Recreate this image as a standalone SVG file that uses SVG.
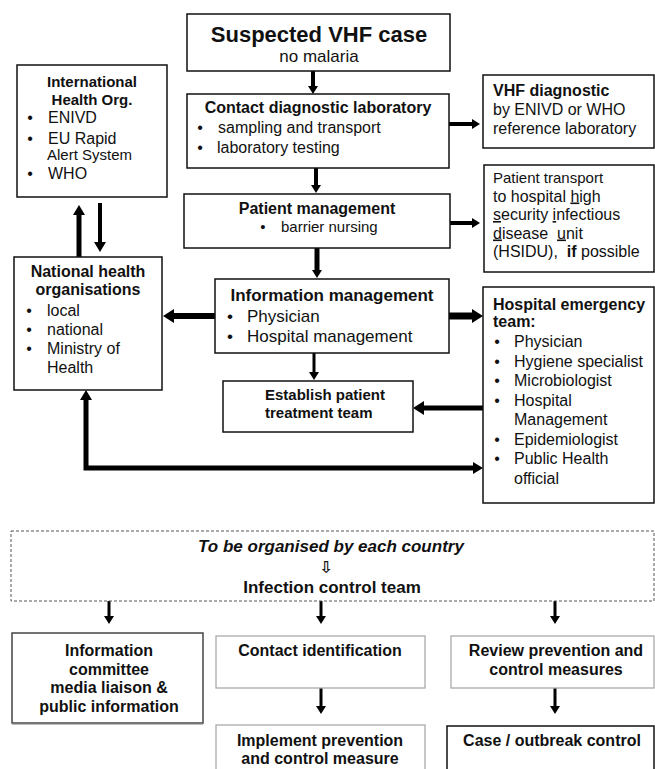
<svg xmlns="http://www.w3.org/2000/svg" width="655" height="769" viewBox="0 0 655 769">
<style>
text{font-family:"Liberation Sans",Arial,sans-serif;fill:#111;}
.b{font-weight:bold;}
.m{text-anchor:middle;}
.box{fill:#fff;stroke:#111;stroke-width:1.5;}
.gbox{fill:#fff;stroke:#aaa;stroke-width:1.3;}
.c{stroke:#000;fill:none;}
.f16{font-size:16px;}
.f15{font-size:15px;}
.f17{font-size:17px;}
</style>
<defs>
<marker id="ah" viewBox="0 0 8 10" refX="0" refY="5" markerWidth="8" markerHeight="10" markerUnits="userSpaceOnUse" orient="auto"><path d="M0,0 L8,5 L0,10 z" fill="#000"/></marker>
<marker id="ahm" viewBox="0 0 10 12" refX="0" refY="6" markerWidth="10" markerHeight="12" markerUnits="userSpaceOnUse" orient="auto-start-reverse"><path d="M0,0 L10,6 L0,12 z" fill="#000"/></marker>
<marker id="ahl" viewBox="0 0 11 14" refX="0" refY="7" markerWidth="11" markerHeight="14" markerUnits="userSpaceOnUse" orient="auto"><path d="M0,0 L11,7 L0,14 z" fill="#000"/></marker>
</defs>

<g id="connectors">
<path class="c" d="M313,71 V86" stroke-width="4" marker-end="url(#ah)"/>
<path class="c" d="M316,168 V185" stroke-width="4" marker-end="url(#ah)"/>
<path class="c" d="M317,248 V270" stroke-width="5" marker-end="url(#ah)"/>
<path class="c" d="M314,353 V372" stroke-width="3" marker-end="url(#ah)"/>
<path class="c" d="M449,124 H472" stroke-width="4" marker-end="url(#ah)"/>
<path class="c" d="M450,223 H472" stroke-width="4" marker-end="url(#ah)"/>
<path class="c" d="M449,316 H472" stroke-width="7" marker-end="url(#ahl)"/>
<path class="c" d="M215,316 H174" stroke-width="6" marker-end="url(#ahl)"/>
<path class="c" d="M483,408 H424" stroke-width="5" marker-end="url(#ahl)"/>
<path class="c" d="M86,400 V468 H473" stroke-width="5" marker-start="url(#ahm)" marker-end="url(#ahm)"/>
<path class="c" d="M79,257 V215" stroke-width="5" marker-end="url(#ahm)"/>
<path class="c" d="M100,203 V242" stroke-width="4" marker-end="url(#ahm)"/>
<path class="c" d="M109,601 V616" stroke-width="3" marker-end="url(#ah)"/>
<path class="c" d="M321,601 V616" stroke-width="3" marker-end="url(#ah)"/>
<path class="c" d="M555,601 V616" stroke-width="3" marker-end="url(#ah)"/>
<path class="c" d="M321,688 V706" stroke-width="3" marker-end="url(#ah)"/>
<path class="c" d="M555,688 V706" stroke-width="3" marker-end="url(#ah)"/>
</g>

<g id="suspected">
<rect class="box" x="187" y="14" width="263" height="57"/>
<text class="b m" x="319" y="42" font-size="22">Suspected VHF case</text>
<text class="m" x="319" y="62" font-size="17">no malaria</text>
</g>

<g id="contact-lab">
<rect class="box" x="187" y="94" width="262" height="74"/>
<text class="b m f16" x="318" y="113">Contact diagnostic laboratory</text>
<text class="m f16" x="200" y="133">•</text>
<text class="f16" x="218" y="133">sampling and transport</text>
<text class="m f16" x="200" y="153">•</text>
<text class="f16" x="217" y="153">laboratory testing</text>
</g>

<g id="vhf-diagnostic">
<rect class="box" x="483" y="75" width="171" height="73"/>
<text class="b f16" x="493" y="96">VHF diagnostic</text>
<text class="f16" x="493" y="115">by ENIVD or WHO</text>
<text class="f16" x="493" y="134">reference laboratory</text>
</g>

<g id="patient-management">
<rect class="box" x="184" y="194" width="266" height="54"/>
<text class="b m f16" x="317" y="214">Patient management</text>
<text class="m f15" x="263" y="232">•</text>
<text class="f15" x="281" y="232">barrier nursing</text>
</g>

<g id="patient-transport">
<rect class="box" x="484" y="165" width="170" height="107"/>
<text class="f15" x="493" y="183">Patient transport</text>
<text class="f16" x="493" y="201.5">to hospital <tspan text-decoration="underline">h</tspan>igh</text>
<text class="f16" x="493" y="220"><tspan text-decoration="underline">s</tspan>ecurity <tspan text-decoration="underline">i</tspan>nfectious</text>
<text class="f16" x="493" y="238.5" xml:space="preserve"><tspan text-decoration="underline">d</tspan>isease  <tspan text-decoration="underline">u</tspan>nit</text>
<text class="f16" x="493" y="257" xml:space="preserve">(HSIDU),  <tspan class="b">if</tspan> possible</text>
</g>

<g id="international">
<rect class="box" x="17" y="65" width="150" height="132"/>
<text class="b m f15" x="92" y="87">International</text>
<text class="b m f15" x="92" y="105">Health Org.</text>
<text class="m f16" x="30" y="123">•</text>
<text class="f16" x="48" y="123">ENIVD</text>
<text class="m f16" x="30" y="144">•</text>
<text class="f16" x="48" y="144">EU Rapid</text>
<text class="f15" x="47" y="160">Alert System</text>
<text class="m f16" x="30" y="179">•</text>
<text class="f16" x="48" y="179">WHO</text>
</g>

<g id="national">
<rect class="box" x="14" y="257" width="148" height="133"/>
<text class="b m f16" x="88" y="277">National health</text>
<text class="b m f16" x="88" y="295">organisations</text>
<text class="m f16" x="29" y="316">•</text>
<text class="f16" x="47" y="316">local</text>
<text class="m f16" x="29" y="335">•</text>
<text class="f16" x="47" y="335">national</text>
<text class="m f16" x="29" y="354">•</text>
<text class="f16" x="47" y="354">Ministry of</text>
<text class="f16" x="47" y="373">Health</text>
</g>

<g id="information-management">
<rect class="box" x="215" y="279" width="234" height="74"/>
<text class="b m f17" x="332" y="301">Information management</text>
<text class="m f17" x="230" y="322">•</text>
<text class="f17" x="247" y="322">Physician</text>
<text class="m f17" x="230" y="342">•</text>
<text class="f17" x="247" y="342">Hospital management</text>
</g>

<g id="establish-team">
<rect class="box" x="223" y="381" width="190" height="51"/>
<text class="b f15" x="265" y="400">Establish patient</text>
<text class="b f15" x="265" y="418">treatment team</text>
</g>

<g id="hospital-emergency">
<rect class="box" x="483" y="287" width="171" height="216"/>
<text class="b f16" x="493" y="310">Hospital emergency</text>
<text class="b f16" x="493" y="327">team:</text>
<text class="m f16" x="497" y="347">•</text>
<text class="f16" x="514" y="347">Physician</text>
<text class="m f16" x="497" y="366.5">•</text>
<text class="f16" x="514" y="366.5">Hygiene specialist</text>
<text class="m f16" x="497" y="386">•</text>
<text class="f16" x="514" y="386">Microbiologist</text>
<text class="m f16" x="497" y="405.5">•</text>
<text class="f16" x="514" y="405.5">Hospital</text>
<text class="f16" x="514" y="425">Management</text>
<text class="m f16" x="497" y="444.5">•</text>
<text class="f16" x="514" y="444.5">Epidemiologist</text>
<text class="m f16" x="497" y="464">•</text>
<text class="f16" x="514" y="464">Public Health</text>
<text class="f16" x="514" y="483.5">official</text>
</g>

<g id="infection-control-team">
<rect x="11" y="531" width="643" height="70" fill="#fff" stroke="#555" stroke-width="1" stroke-dasharray="3,2"/>
<text class="b m f17" x="331" y="552" font-style="italic">To be organised by each country</text>
<text class="m b" x="326" y="573" font-size="16" style="font-family:'DejaVu Sans','Noto Sans',sans-serif">⇩</text>
<text class="b m f17" x="332" y="593">Infection control team</text>
</g>

<g id="information-committee">
<rect x="12" y="633" width="191" height="90" fill="#fff" stroke="#444" stroke-width="1.5"/>
<line x1="12" y1="723.5" x2="203" y2="723.5" stroke="#777" stroke-width="2"/>
<text class="b m f16" x="109" y="656">Information</text>
<text class="b m f16" x="109" y="674.5">committee</text>
<text class="b m f16" x="109" y="693">media liaison &amp;</text>
<text class="b m f16" x="109" y="711.5">public information</text>
</g>

<g id="contact-identification">
<rect class="gbox" x="216" y="636" width="209" height="52"/>
<text class="b m f16" x="320" y="656">Contact identification</text>
</g>

<g id="review-measures">
<rect class="gbox" x="451" y="636" width="203" height="52"/>
<text class="b m f16" x="556" y="656">Review prevention and</text>
<text class="b m f16" x="556" y="675">control measures</text>
</g>

<g id="implement-measures">
<rect class="gbox" x="216" y="725" width="209" height="60"/>
<text class="b m f16" x="320" y="746">Implement prevention</text>
<text class="b m f16" x="320" y="764">and control measure</text>
</g>

<g id="case-outbreak-control">
<rect class="box" x="447" y="726" width="207" height="60"/>
<text class="b m f16" x="552" y="746">Case / outbreak control</text>
</g>
</svg>
